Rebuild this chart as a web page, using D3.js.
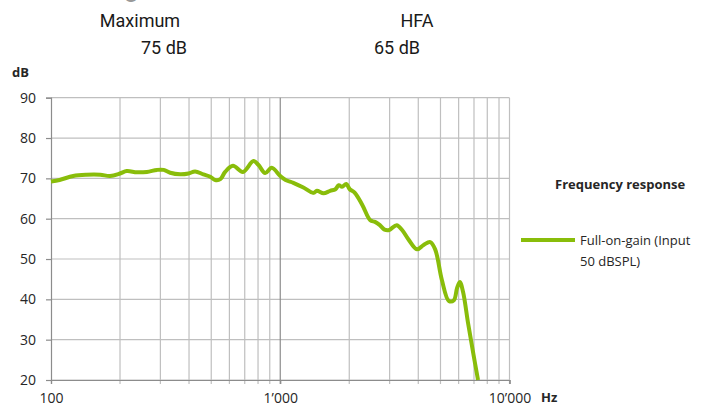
<!DOCTYPE html>
<html>
<head>
<meta charset="utf-8">
<script src="https://cdn.jsdelivr.net/npm/d3@7"></script>
<style>
  body { margin: 0; background: #fff; }
  svg { display: block; }
  text { font-family: "Open Sans", sans-serif; fill: #262626; }
  .head { font-family: Roboto, sans-serif; font-size: 18px; fill: #1a1a1a; }
</style>
</head>
<body>
<div id="chart"></div>
<script>
const width = 719;
const height = 407;

// curve: frequency (Hz) and gain (dB)
const freqs = [100, 109, 125, 143, 164, 181, 200, 214, 237, 262, 290, 310, 331, 366, 398, 425, 462, 495, 520, 548,
  575, 622, 687, 764, 804, 860, 918, 1000, 1055, 1140, 1255, 1395, 1445, 1545, 1650, 1740, 1800, 1860, 1940, 2010,
  2115, 2280, 2470, 2590, 2720, 2850, 2990, 3220, 3400, 3620, 3950, 4220, 4510, 4740, 5070, 5440, 5720, 5900, 6070,
  6270, 6600, 6950, 7290];
const gains = [69.2, 69.6, 70.6, 70.9, 70.9, 70.6, 71.2, 71.8, 71.5, 71.6, 72.1, 72.1, 71.4, 71.0, 71.2, 71.7, 71.0, 70.4, 69.6, 69.8,
  71.6, 73.1, 71.6, 74.3, 73.3, 71.3, 72.6, 70.6, 69.6, 68.9, 67.8, 66.4, 66.9, 66.3, 66.9, 67.3, 68.3, 67.9, 68.6, 67.3,
  66.4, 63.4, 59.6, 59.2, 58.4, 57.3, 57.2, 58.4, 57.2, 54.9, 52.4, 53.5, 54.2, 52.4, 44.8, 39.6, 39.8, 42.7, 44.3,
  41.9, 34.0, 26.6, 20.0];

const yTicks = [20, 30, 40, 50, 60, 70, 80, 90];
const xMajor = [100, 1000, 10000];
const xMajorLabels = ["100", "1\u2019000", "10\u2019000"];
const xGrid = [200, 300, 400, 500, 600, 700, 800, 900, 2000, 3000, 4000, 5000, 6000, 7000, 8000, 9000];

const headerLabels = ["Maximum", "HFA"];
const headerValues = ["75 dB", "65 dB"];
const seriesName = ["Full-on-gain (Input", "50 dBSPL)"];
const legendTitle = "Frequency response";

const green = "#89bd0a";

const x = d3.scaleLog().domain([100, 10000]).range([51, 509.5]);
const y = d3.scaleLinear().domain([20, 90]).range([380, 97.7]);

const svg = d3.select("#chart").append("svg")
  .attr("width", width)
  .attr("height", height);

// cut-off title descender at the very top
svg.append("text")
  .attr("x", 124).attr("y", -3)
  .style("font-family", "Roboto, sans-serif")
  .style("font-size", "26px")
  .style("fill", "#999")
  .text("g");

// header values
const headLabelX = [140, 417];
const headValueX = [164, 397];
svg.selectAll(".hl")
  .data(headerLabels)
  .join("text")
  .attr("class", "head")
  .attr("x", (d, i) => headLabelX[i]).attr("y", 27)
  .attr("text-anchor", "middle")
  .text(d => d);
svg.selectAll(".hv")
  .data(headerValues)
  .join("text")
  .attr("class", "head")
  .attr("x", (d, i) => headValueX[i]).attr("y", 54)
  .attr("text-anchor", "middle")
  .text(d => d);

// grid
const grid = svg.append("g");
grid.selectAll(".hgrid")
  .data(yTicks)
  .join("line")
  .attr("x1", x(100)).attr("x2", x(10000))
  .attr("y1", d => y(d)).attr("y2", d => y(d))
  .attr("stroke", "#bfbfbf").attr("stroke-width", 1.2);

grid.selectAll(".vgrid")
  .data(xGrid.concat([10000]))
  .join("line")
  .attr("x1", d => x(d)).attr("x2", d => x(d))
  .attr("y1", y(90)).attr("y2", y(20) + 4)
  .attr("stroke", "#bfbfbf").attr("stroke-width", 1.2);

grid.append("line")
  .attr("x1", x(1000)).attr("x2", x(1000))
  .attr("y1", y(90)).attr("y2", y(20) + 4)
  .attr("stroke", "#8c8c8c").attr("stroke-width", 1.2);

// axes
const yAxis = svg.append("g")
  .attr("transform", `translate(${x(100)},0)`)
  .call(d3.axisLeft(y).tickValues(yTicks).tickSize(5).tickPadding(10));
yAxis.select(".domain").attr("stroke", "#8c8c8c").attr("stroke-width", 1.2);
yAxis.selectAll(".tick line").attr("stroke", "#8c8c8c").attr("stroke-width", 1.2);
yAxis.selectAll(".tick text")
  .style("font-family", "'Open Sans', sans-serif")
  .style("font-size", "14px")
  .attr("fill", "#262626");

const xAxis = svg.append("g")
  .attr("transform", `translate(0,${y(20)})`)
  .call(d3.axisBottom(x).tickValues(xMajor).tickSize(4).tickPadding(9)
    .tickFormat((d, i) => xMajorLabels[i]));
xAxis.select(".domain").attr("stroke", "#8c8c8c").attr("stroke-width", 1.2);
xAxis.selectAll(".tick line").attr("stroke", "#8c8c8c").attr("stroke-width", 1.2);
xAxis.selectAll(".tick text")
  .style("font-family", "'Open Sans', sans-serif")
  .style("font-size", "14px")
  .attr("fill", "#262626");

// axis units
svg.append("text")
  .attr("x", 12).attr("y", 77)
  .style("font-size", "13px").style("font-weight", "bold")
  .text("dB");
svg.append("text")
  .attr("x", 541).attr("y", 402)
  .style("font-size", "13px").style("font-weight", "bold")
  .text("Hz");

// response curve
const data = freqs.map((f, i) => ({ f: f, g: gains[i] }));
const line = d3.line()
  .x(d => x(d.f))
  .y(d => y(d.g))
  .curve(d3.curveCatmullRom.alpha(0.5));

svg.append("path")
  .datum(data)
  .attr("fill", "none")
  .attr("stroke", green)
  .attr("stroke-width", 4)
  .attr("stroke-linejoin", "round")
  .attr("stroke-linecap", "butt")
  .attr("d", line);

// legend
svg.append("text")
  .attr("x", 555).attr("y", 189)
  .style("font-size", "13px").style("font-weight", "bold")
  .text(legendTitle);

svg.append("line")
  .attr("x1", 521).attr("x2", 575)
  .attr("y1", 240).attr("y2", 240)
  .attr("stroke", green).attr("stroke-width", 4);

svg.append("text")
  .attr("x", 580).attr("y", 245)
  .style("font-size", "13px")
  .selectAll("tspan")
  .data(seriesName)
  .join("tspan")
  .attr("x", 580)
  .attr("dy", (d, i) => i === 0 ? 0 : 21)
  .text(d => d);
</script>
</body>
</html>
